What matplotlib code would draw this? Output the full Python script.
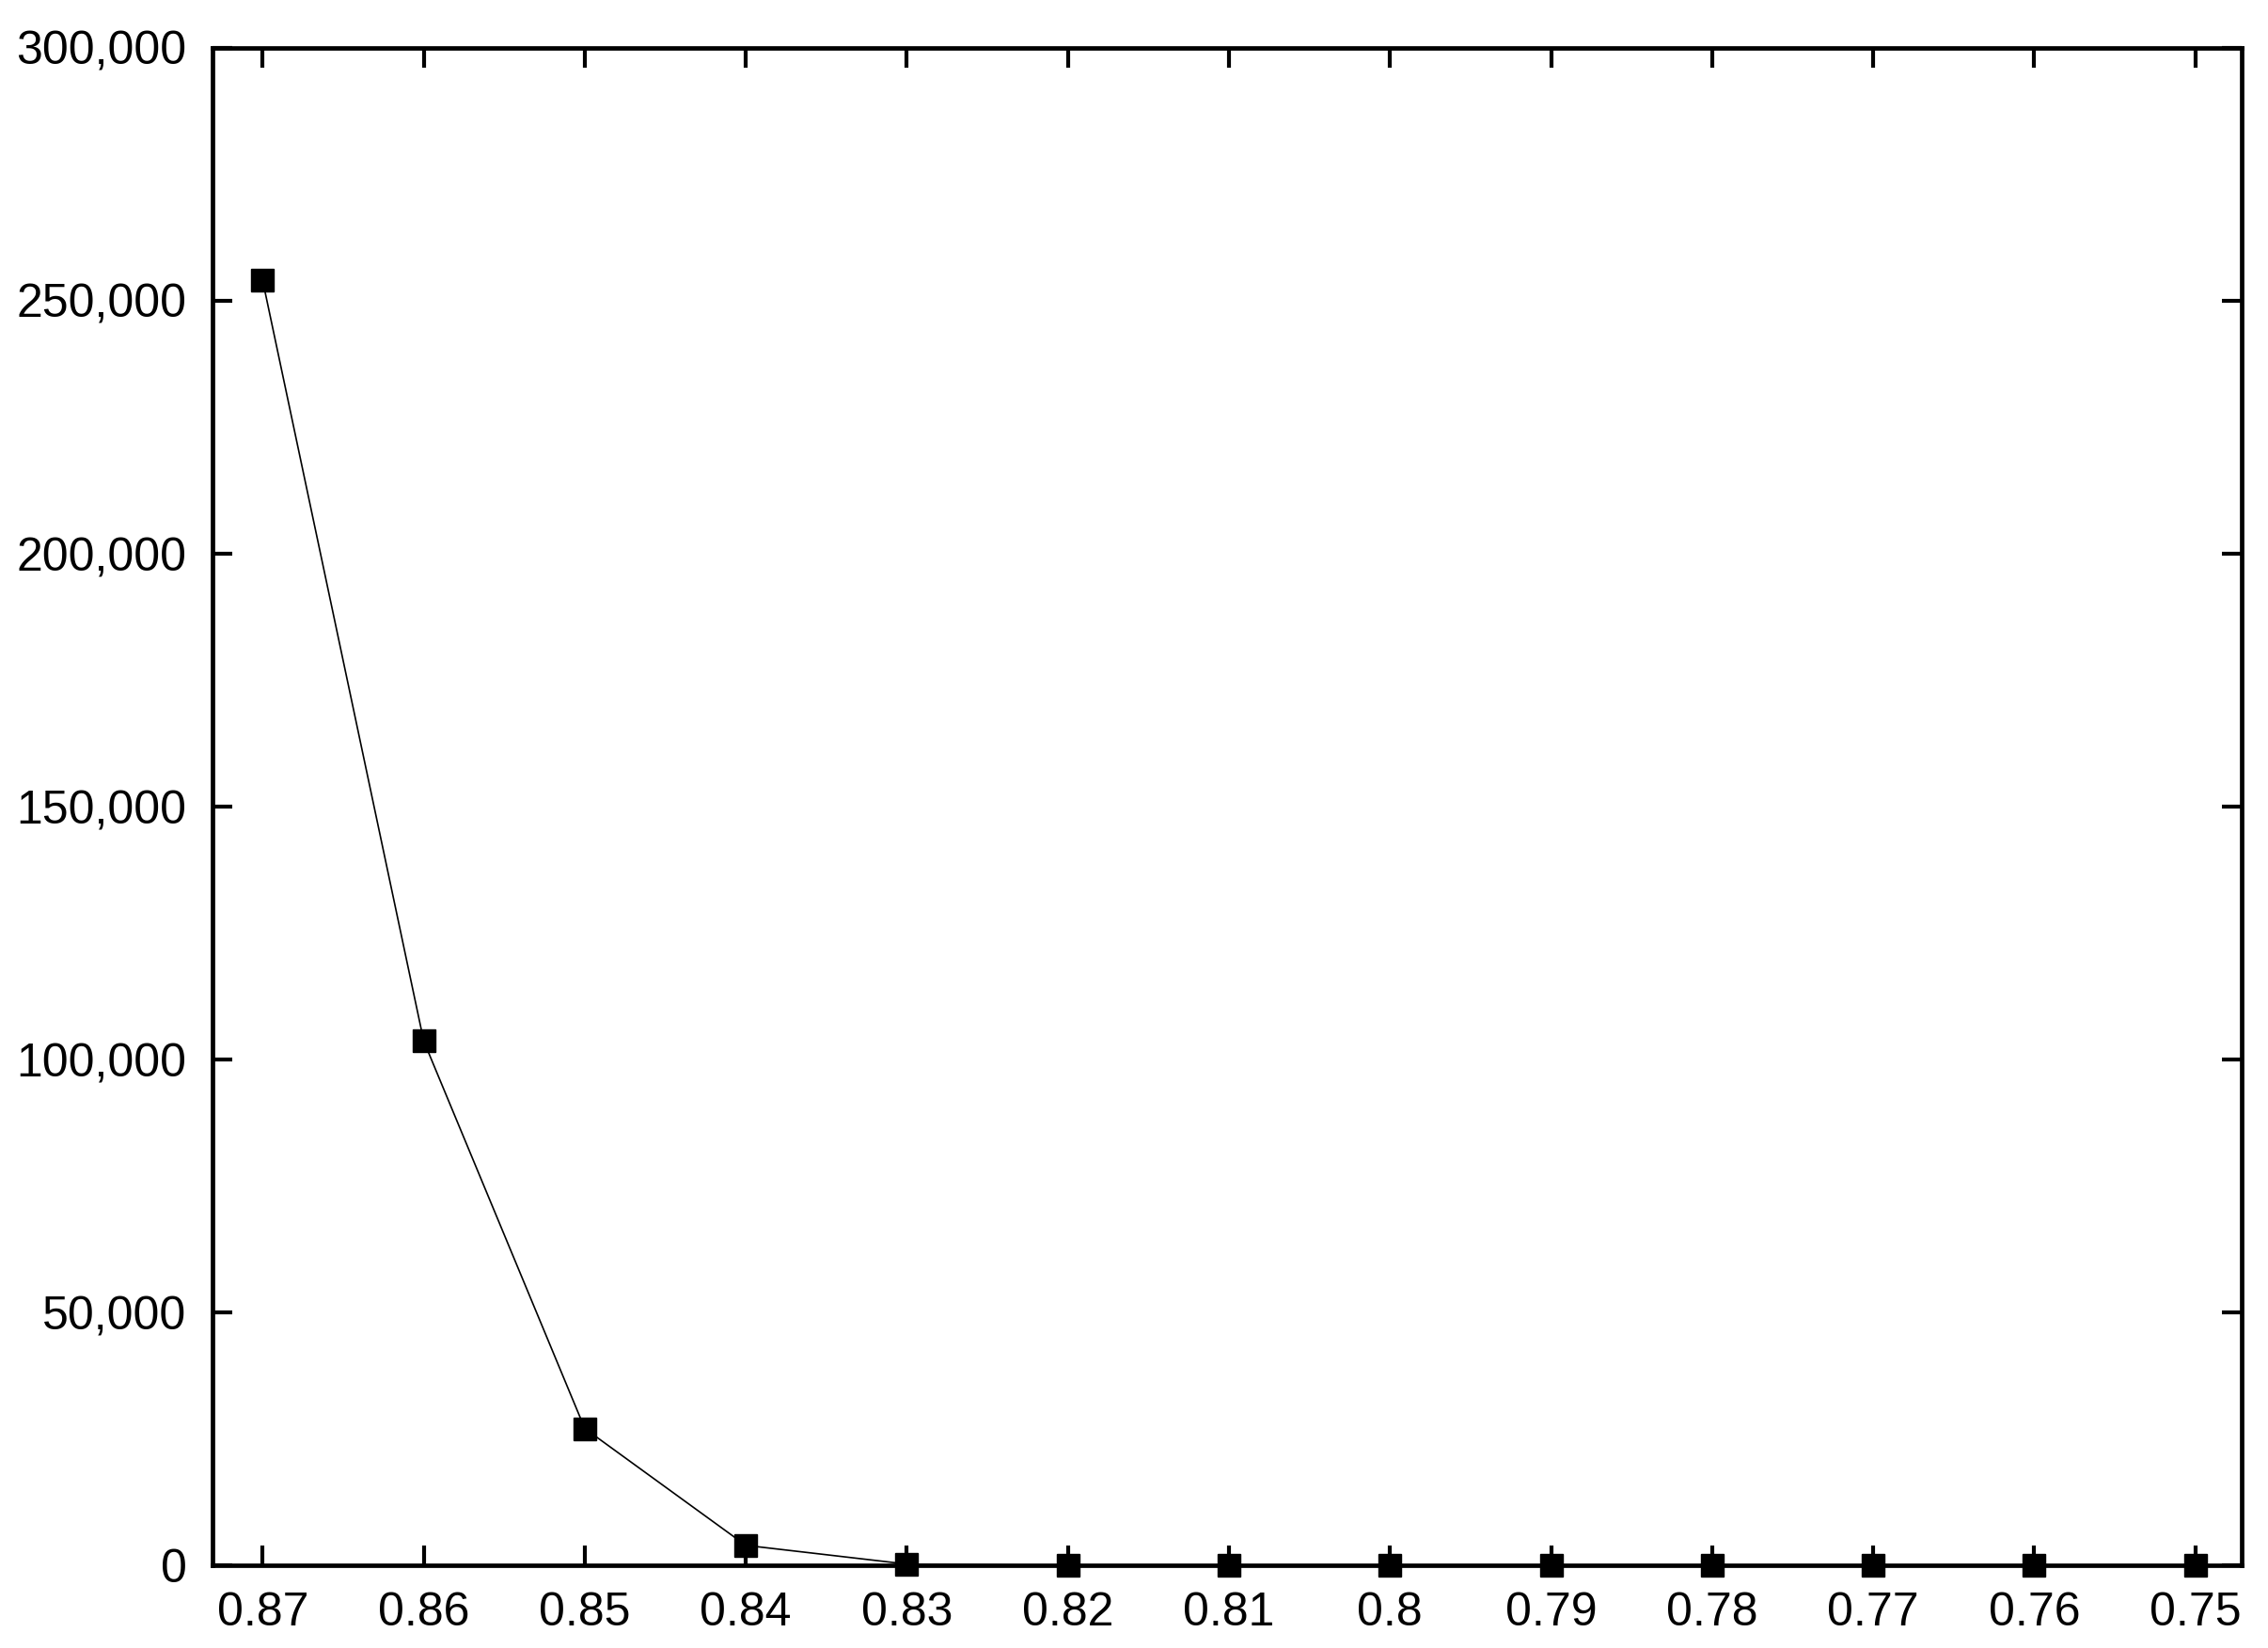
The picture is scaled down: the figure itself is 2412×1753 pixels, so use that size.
import matplotlib
matplotlib.use("Agg")
import matplotlib.pyplot as plt
from matplotlib.ticker import FuncFormatter, FixedLocator

plt.rcParams['font.family'] = ['Liberation Sans', 'DejaVu Sans']

# values
thresholds = [0.87, 0.86, 0.85, 0.84, 0.83, 0.82, 0.81, 0.80, 0.79, 0.78, 0.77, 0.76, 0.75]
counts = [254000, 103700, 27100, 4000, 300, 0, 0, 0, 0, 0, 0, 0, 0]
x_tick_labels = ['0.87', '0.86', '0.85', '0.84', '0.83', '0.82', '0.81', '0.8',
                 '0.79', '0.78', '0.77', '0.76', '0.75']
y_ticks = [0, 50000, 100000, 150000, 200000, 250000, 300000]

fig = plt.figure(figsize=(24.12, 17.53), dpi=100)
ax = fig.add_axes([0.0938, 0.050, 0.8947, 0.921])

ax.plot(thresholds, counts, color='black', linewidth=1.2,
        marker='s', markersize=17, markerfacecolor='black', markeredgecolor='black',
        clip_on=False, zorder=3)

ax.set_xlim(0.8731, 0.7471)
ax.set_ylim(0, 300000)

ax.xaxis.set_major_locator(FixedLocator(thresholds))
ax.set_xticklabels(x_tick_labels)
ax.yaxis.set_major_locator(FixedLocator(y_ticks))
ax.yaxis.set_major_formatter(FuncFormatter(lambda v, p: f"{int(v):,}"))

for s in ax.spines.values():
    s.set_linewidth(3.4)
    s.set_color('black')

ax.tick_params(axis='both', which='major', direction='in', length=15, width=3.0,
               labelsize=36, pad=20, top=True, right=True, colors='black')

fig.savefig('out.png', dpi=100, facecolor='white')
